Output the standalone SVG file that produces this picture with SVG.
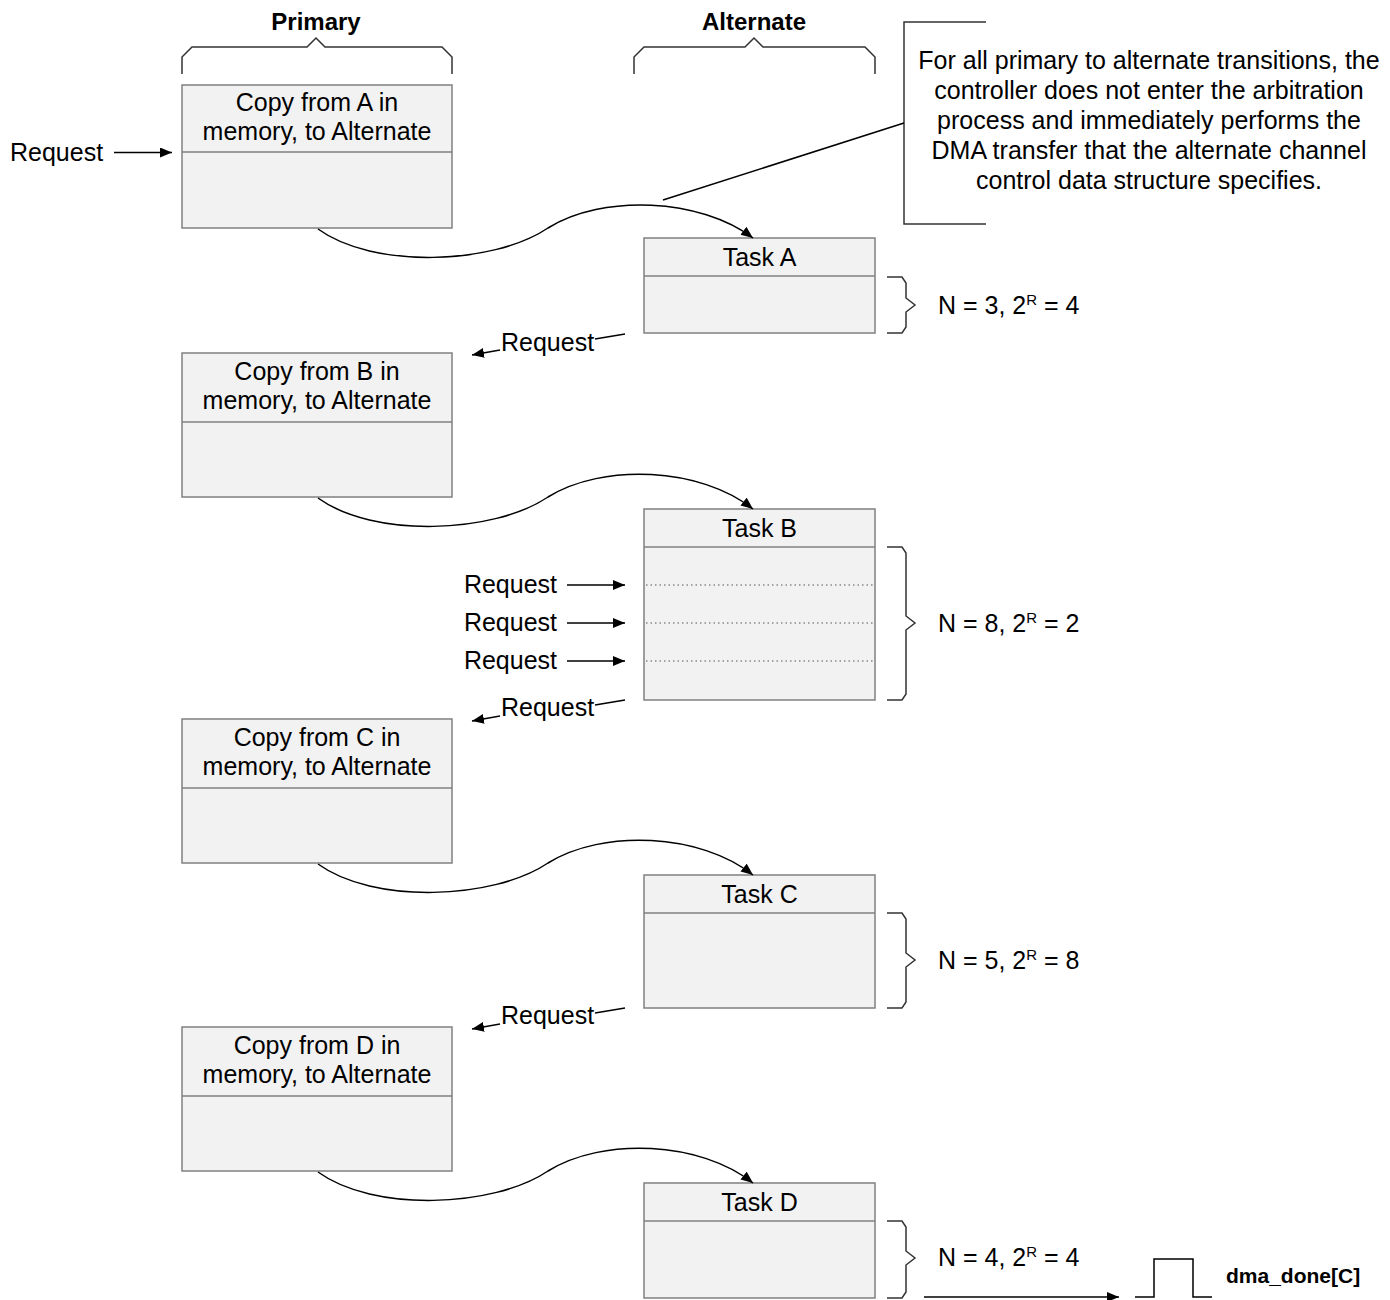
<svg xmlns="http://www.w3.org/2000/svg" width="1390" height="1300" viewBox="0 0 1390 1300">
<style>
text{font-family:"Liberation Sans",Arial,sans-serif;font-size:25px;fill:#000}
.b{font-weight:bold;font-size:24px}
.c{text-anchor:middle}
.e{text-anchor:end}
.box{fill:#f2f2f2;stroke:#808080;stroke-width:1.5}
.div{stroke:#808080;stroke-width:1.5}
.dot{stroke:#555;stroke-width:1.2;stroke-dasharray:1.5 3}
.br{fill:none;stroke:#333;stroke-width:1.5}
.ln{fill:none;stroke:#000;stroke-width:1.5}
.sup{font-size:15px}
</style>
<defs>
<marker id="ah" markerUnits="userSpaceOnUse" markerWidth="14" markerHeight="11" refX="12" refY="5" orient="auto">
<path d="M0,0 L12,5 L0,10 z" fill="#000"/>
</marker>
</defs>

<g id="headers">
<text class="b c" x="316" y="30">Primary</text>
<path class="br" d="M182,74 V57 L192,47 H307 L316,38 L325,47 H442 L452,57 V74"/>
<text class="b c" x="754" y="30">Alternate</text>
<path class="br" d="M634,74 V57 L644,47 H745 L754,38 L763,47 H865 L875,57 V74"/>
</g>

<g id="note">
<path class="br" d="M986,22 H904 V224 H986"/>
<text class="c" x="1149" y="69">For all primary to alternate transitions, the</text>
<text class="c" x="1149" y="99">controller does not enter the arbitration</text>
<text class="c" x="1149" y="129">process and immediately performs the</text>
<text class="c" x="1149" y="159">DMA transfer that the alternate channel</text>
<text class="c" x="1149" y="189">control data structure specifies.</text>
</g>

<g id="primaryA">
<rect class="box" x="182" y="85" width="270" height="143"/>
<line class="div" x1="182" y1="152" x2="452" y2="152"/>
<text class="c" x="317" y="111">Copy from A in</text>
<text class="c" x="317" y="140">memory, to Alternate</text>
</g>
<g id="primaryB">
<rect class="box" x="182" y="353" width="270" height="144"/>
<line class="div" x1="182" y1="422" x2="452" y2="422"/>
<text class="c" x="317" y="380">Copy from B in</text>
<text class="c" x="317" y="409">memory, to Alternate</text>
</g>
<g id="primaryC">
<rect class="box" x="182" y="719" width="270" height="144"/>
<line class="div" x1="182" y1="788" x2="452" y2="788"/>
<text class="c" x="317" y="746">Copy from C in</text>
<text class="c" x="317" y="775">memory, to Alternate</text>
</g>
<g id="primaryD">
<rect class="box" x="182" y="1027" width="270" height="144"/>
<line class="div" x1="182" y1="1096" x2="452" y2="1096"/>
<text class="c" x="317" y="1054">Copy from D in</text>
<text class="c" x="317" y="1083">memory, to Alternate</text>
</g>

<g id="taskA">
<rect class="box" x="644" y="238" width="231" height="95"/>
<line class="div" x1="644" y1="276" x2="875" y2="276"/>
<text class="c" x="759.5" y="266">Task A</text>
</g>
<g id="taskB">
<rect class="box" x="644" y="509" width="231" height="191"/>
<line class="div" x1="644" y1="547" x2="875" y2="547"/>
<line class="dot" x1="646" y1="585" x2="875" y2="585"/>
<line class="dot" x1="646" y1="623" x2="875" y2="623"/>
<line class="dot" x1="646" y1="661" x2="875" y2="661"/>
<text class="c" x="759.5" y="537">Task B</text>
</g>
<g id="taskC">
<rect class="box" x="644" y="875" width="231" height="133"/>
<line class="div" x1="644" y1="913" x2="875" y2="913"/>
<text class="c" x="759.5" y="903">Task C</text>
</g>
<g id="taskD">
<rect class="box" x="644" y="1183" width="231" height="115"/>
<line class="div" x1="644" y1="1221" x2="875" y2="1221"/>
<text class="c" x="759.5" y="1211">Task D</text>
</g>

<g id="braces">
<path class="br" d="M887,277 H902 L906,283 V298 L915,305 L906,312 V327 L902,333 H887"/>
<text x="938" y="314">N = 3, 2<tspan class="sup" dy="-9">R</tspan><tspan dy="9"> = 4</tspan></text>
<path class="br" d="M887,547 H902 L906,553 V616 L915,623 L906,630 V694 L902,700 H887"/>
<text x="938" y="632">N = 8, 2<tspan class="sup" dy="-9">R</tspan><tspan dy="9"> = 2</tspan></text>
<path class="br" d="M887,913 H902 L906,919 V953 L915,960 L906,967 V1002 L902,1008 H887"/>
<text x="938" y="969">N = 5, 2<tspan class="sup" dy="-9">R</tspan><tspan dy="9"> = 8</tspan></text>
<path class="br" d="M887,1221 H902 L906,1227 V1251 L915,1258 L906,1265 V1292 L902,1298 H887"/>
<text x="938" y="1266">N = 4, 2<tspan class="sup" dy="-9">R</tspan><tspan dy="9"> = 4</tspan></text>
</g>

<g id="labels">
<text x="10" y="161">Request</text>
<text class="e" x="557" y="593">Request</text>
<text class="e" x="557" y="631">Request</text>
<text class="e" x="557" y="669">Request</text>
<text x="501" y="351">Request</text>
<text x="501" y="716">Request</text>
<text x="501" y="1024">Request</text>
<text class="b" x="1226" y="1283" style="font-size:21px">dma_done[C]</text>
</g>

<g id="connectors">
<line class="ln" x1="114" y1="152.5" x2="172" y2="152.5" marker-end="url(#ah)"/>
<line class="ln" x1="567" y1="585" x2="625" y2="585" marker-end="url(#ah)"/>
<line class="ln" x1="567" y1="623" x2="625" y2="623" marker-end="url(#ah)"/>
<line class="ln" x1="567" y1="661" x2="625" y2="661" marker-end="url(#ah)"/>
<line class="ln" x1="663" y1="200" x2="904" y2="123"/>
<path class="ln" d="M318,229 c55,40 175,36 230,-1 c55,-34 152,-30 205,10" marker-end="url(#ah)"/>
<path class="ln" d="M318,498 c55,40 175,36 230,-1 c55,-34 152,-30 205,12" marker-end="url(#ah)"/>
<path class="ln" d="M318,864 c55,40 175,36 230,-1 c55,-34 152,-30 205,12" marker-end="url(#ah)"/>
<path class="ln" d="M318,1172 c55,40 175,36 230,-1 c55,-34 152,-30 205,12" marker-end="url(#ah)"/>
<line class="ln" x1="625" y1="334" x2="595" y2="339"/>
<line class="ln" x1="500" y1="350" x2="472" y2="355" marker-end="url(#ah)"/>
<line class="ln" x1="625" y1="700" x2="595" y2="705"/>
<line class="ln" x1="500" y1="716" x2="472" y2="721" marker-end="url(#ah)"/>
<line class="ln" x1="625" y1="1008" x2="595" y2="1013"/>
<line class="ln" x1="500" y1="1024" x2="472" y2="1029" marker-end="url(#ah)"/>
<line class="ln" x1="924" y1="1297" x2="1119" y2="1297" marker-end="url(#ah)"/>
<path class="ln" d="M1135,1297 H1154 V1259 H1193 V1297 H1212"/>
</g>
</svg>
